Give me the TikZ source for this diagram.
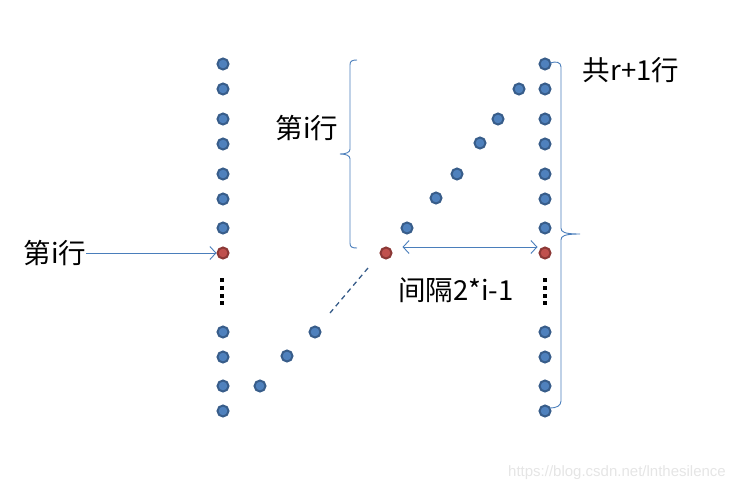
\documentclass[tikz,border=0pt]{standalone}
\usepackage{fontspec}
\newfontfamily\cjk{Noto Sans CJK SC}
\newfontfamily\arialish{Liberation Sans}
\usetikzlibrary{arrows.meta}
\definecolor{dotfill}{HTML}{4F81BD}
\definecolor{dotring}{HTML}{385D8A}
\definecolor{redfill}{HTML}{C0504D}
\definecolor{redring}{HTML}{8C3836}
\definecolor{linec}{HTML}{4A7EBB}
\tikzset{
  bdot/.style={circle,fill=dotfill,draw=dotring,line width=2pt,minimum size=11pt,inner sep=0pt},
  rdot/.style={circle,fill=redfill,draw=redring,line width=2pt,minimum size=11pt,inner sep=0pt},
  vdots/.style={rectangle,fill=black,minimum size=3.2pt,inner sep=0pt},
  lab/.style={font=\cjk\fontsize{27.5pt}{30pt}\selectfont,inner sep=0pt},
  conn/.style={draw=linec,line width=0.9pt},
  barb/.style={-{Straight Barb[length=6pt,width=13pt,line width=0.9pt]}},
}
\begin{document}
\begin{tikzpicture}[x=1pt,y=-1pt]
\useasboundingbox (0,0) rectangle (742,493);
% columns
\foreach \n/\y in {1/64,2/89,3/119,4/144,5/174,6/199,7/228,9/332,10/357,11/386,12/411}{
  \node[bdot] (L\n) at (223,\y) {};
  \node[bdot] (R\n) at (545,\y) {};
}
\node[rdot] (L8) at (223,253) {};
\node[rdot] (R8) at (545,253) {};
\foreach \y [count=\k] in {280,288,296,303}{
  \node[vdots] (ld\k) at (222,\y) {};
  \node[vdots] (rd\k) at (545,\y) {};
}
% diagonal
\foreach \n/\x/\y in {1/519/89,2/498/119,3/480/143,4/457/174,5/436/198,6/407/228}{
  \node[bdot] (D\n) at (\x,\y) {};
}
\node[rdot] (DR) at (386,253) {};
\foreach \n/\x/\y in {7/315/332,8/287/356,9/260/386}{
  \node[bdot] (D\n) at (\x,\y) {};
}
\coordinate (ds1) at (368,268);
\coordinate (ds2) at (330,313);
\draw[conn,dashed,dash pattern=on 5pt off 4pt,draw=dotring,line width=1.3pt] (ds1) -- (ds2);
% left label and arrow
\node[lab] (tl) at (55,253) {第i行};
\draw[conn,barb] (tl.east) -- (L8.west);
% middle brace
\draw[conn] (357,60) .. controls (352,60) and (350,61) .. (350,65) -- (350,149)
  .. controls (350,152) and (347,154) .. (340,154)
  .. controls (347,154) and (350,156) .. (350,159) -- (350,243)
  .. controls (350,247) and (352,248) .. (357,248);
\node[lab] (tm) at (307,128) {第i行};
% right brace
\draw[conn] (550,63) .. controls (556,61) and (561,62) .. (561,67) -- (561,228)
  .. controls (561,232) and (564,234) .. (580,234)
  .. controls (564,234) and (561,236) .. (561,240) -- (561,401)
  .. controls (561,406) and (556,408) .. (550,408);
\node[lab] (tr) at (631,70) {共r+1行};
% gap arrow
\draw[conn,{Straight Barb[length=6pt,width=13pt,line width=0.9pt]}-{Straight Barb[length=6pt,width=13pt,line width=0.9pt]}] ([xshift=10pt,yshift=6pt]DR.east) -- ([xshift=-1pt,yshift=6pt]R8.west);
\node[lab] (tg) at (456,290) {间隔2*i-1};
% watermark
\node[font=\arialish\fontsize{15pt}{17pt}\selectfont,text=black!10,inner sep=0pt] (wm) at (617,473) {https://blog.csdn.net/lnthesilence};
\end{tikzpicture}
\end{document}
